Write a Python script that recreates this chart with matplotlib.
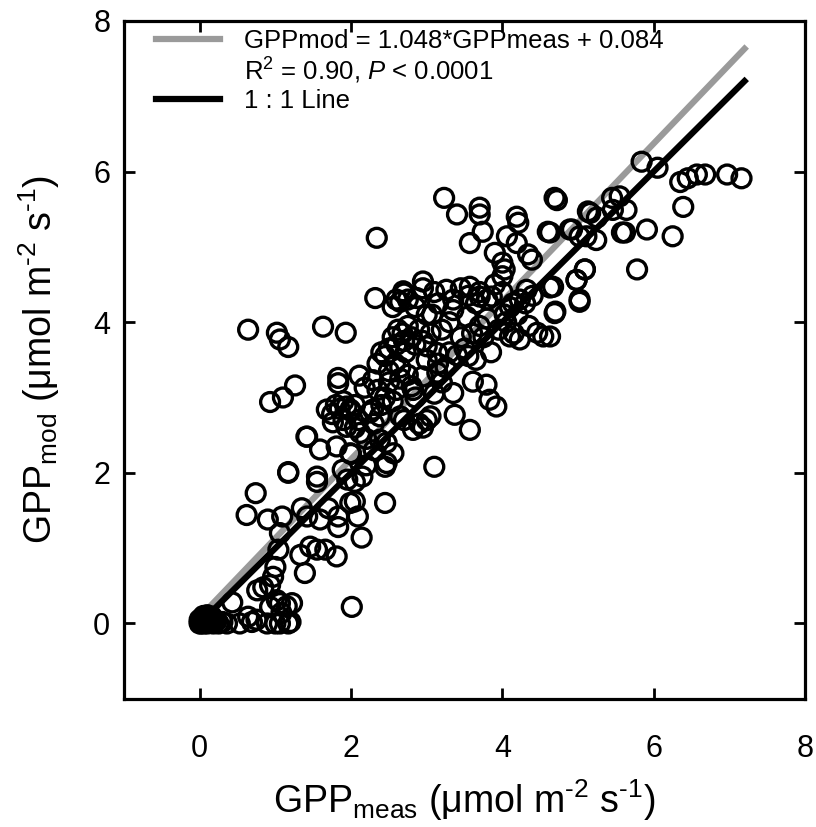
import matplotlib
matplotlib.use("Agg")
import matplotlib.pyplot as plt
import numpy as np
from matplotlib.lines import Line2D

plt.rcParams['font.family'] = ['Liberation Sans', 'DejaVu Sans']
plt.rcParams['mathtext.fontset'] = 'custom'
plt.rcParams['mathtext.rm'] = 'Liberation Sans'
plt.rcParams['mathtext.it'] = 'Liberation Sans:italic'

gpp_meas = [
    # cluster at origin
    0.0, 0.0, 0.02, 0.04, 0.06, 0.08, 0.1, 0.12, 0.15, 0.18, 0.2, 0.25, 0.3, 0.36,
    0.0, 0.03, 0.05, 0.07, 0.1, 0.13, 0.16, 0.22, 0.05, 0.1, 0.14,
    0.53, 0.69, 0.89, 1.06, 1.17, 0.43, 0.64, 0.75, 1.0, 1.2,
    # low values
    0.76, 0.84, 0.93, 0.97, 1.0, 1.15, 1.06, 1.02, 1.22, 0.93, 1.08,
    1.39, 1.33, 1.46, 1.55, 1.66, 1.81, 1.04, 1.06, 0.62, 0.90, 1.09, 1.35, 1.42,
    1.59, 1.70, 1.83, 1.83, 2.09, 2.14, 0.74, 1.17, 1.55, 1.89, 1.95, 2.05, 1.99,
    2.05, 2.45, 2.45, 2.01, 1.55, 1.42,
    # upper left scatter
    0.64, 1.02, 1.06, 1.17, 1.63, 1.93, 0.93, 1.10, 1.26, 1.83, 1.83, 2.11, 2.18,
    2.29, 1.68, 1.94, 1.99, 1.76, 1.94, 2.12, 2.29, 2.38, 1.81, 1.99, 1.41, 1.59,
    1.17, 1.8, 1.85, 1.9, 2.0, 1.75, 2.05, 1.9, 2.47, 2.56, 2.47,
    2.0, 2.05, 2.2, 2.3, 2.2, 2.15, 2.3, 2.25, 2.1,
    # dense middle
    2.45, 2.5, 2.55, 2.6, 2.62, 2.68, 2.7, 2.75, 2.8, 2.85, 2.72, 2.58, 2.65, 2.5,
    2.9, 2.95, 2.4, 2.35, 2.55, 2.75, 2.85, 2.7, 2.6,
    2.35, 2.4, 2.45, 2.5, 2.55, 2.6, 2.65, 2.75, 2.8, 2.85, 2.7, 2.9, 2.95, 3.05,
    3.1, 3.2, 3.25, 3.3, 3.15, 3.0, 3.05, 3.2, 3.3, 3.45, 3.5, 3.6, 3.7, 3.75,
    3.8, 3.65, 3.55, 3.45, 3.35, 3.15, 3.0, 2.95, 3.1,
    2.95, 2.69, 2.65, 2.87, 3.26, 3.57, 3.70, 3.86, 3.07, 3.35, 3.53, 4.32, 4.23,
    4.14, 4.10, 4.23, 4.46, 4.54, 4.03, 3.0, 3.14, 3.40, 2.95, 3.14, 2.82, 3.61,
    3.79, 3.35, 3.83, 3.92, 3.37, 3.57, 3.0, 2.82, 2.65, 2.38, 3.10, 2.34, 2.32,
    3.55, 3.65, 3.85, 3.95, 4.05, 4.1, 4.2, 4.3, 4.4, 4.0, 3.9, 3.7, 3.8, 4.15, 4.35,
    # upper part
    3.23, 3.40, 3.70, 3.70, 3.74, 3.57, 4.19, 4.21, 4.69, 4.60, 4.06, 4.19, 4.34,
    4.39, 3.90, 4.0, 4.03, 4.0, 4.92, 5.02, 5.16, 5.46, 5.58, 5.09, 4.98, 5.02,
    4.63, 4.69,
    # right side
    5.84, 6.05, 6.35, 6.45, 6.57, 6.68, 6.97, 7.16, 6.39, 6.25, 5.91, 5.62, 5.78,
    5.45, 5.55, 5.64, 5.13, 5.25, 4.89, 5.11, 5.24, 4.72, 4.63, 5.09, 4.98, 5.02,
    4.67, 4.70, 4.63,
]
gpp_mod = [
    0.0, 0.02, 0.0, 0.03, 0.0, 0.02, 0.0, 0.03, 0.01, 0.0, 0.04, 0.0, 0.02, 0.0,
    0.05, 0.06, 0.08, 0.04, 0.07, 0.05, 0.09, 0.03, 0.1, 0.11, 0.06,
    0.0, 0.02, 0.0, 0.0, 0.0, 0.28, 0.09, 0.05, 0.0, 0.02,
    0.44, 0.48, 0.51, 0.62, 0.75, 0.23, 0.27, 0.31, 0.27, 0.22, 0.14,
    0.67, 0.91, 1.02, 0.98, 0.98, 0.89, 0.98, 1.20, 1.44, 1.38, 1.42, 1.53, 1.42,
    1.38, 1.53, 1.28, 1.42, 1.42, 1.14, 1.73, 2.0, 1.88, 2.04, 1.91, 1.88, 1.60,
    1.62, 1.60, 2.08, 0.22, 1.95, 2.48,
    3.90, 3.86, 3.77, 3.67, 3.94, 3.86, 2.94, 3.00, 3.16, 3.26, 3.19, 3.29, 3.13,
    3.23, 2.84, 2.88, 2.84, 2.67, 2.61, 2.53, 2.84, 2.75, 2.35, 2.26, 2.48, 2.31,
    2.01, 2.9, 2.85, 2.95, 2.82, 2.78, 2.9, 2.7, 2.40, 2.26, 2.13,
    2.25, 2.6, 2.45, 2.3, 2.1, 1.95, 2.65, 2.8, 2.7,
    3.55, 3.65, 3.8, 3.7, 3.9, 3.85, 3.75, 3.95, 3.8, 3.7, 3.6, 3.45, 3.4, 3.35,
    3.9, 3.75, 3.6, 3.45, 4.2, 4.3, 4.2, 4.38, 4.3,
    3.1, 2.9, 3.0, 3.2, 2.95, 3.1, 3.25, 3.3, 3.15, 3.0, 2.7, 2.65, 2.6, 2.75,
    3.05, 3.2, 3.4, 3.6, 3.45, 3.5, 3.85, 3.9, 4.0, 3.8, 3.65, 3.85, 3.95, 3.8,
    4.05, 4.25, 4.35, 4.45, 4.3, 4.25, 4.1, 4.45, 4.4,
    4.54, 4.41, 4.27, 4.32, 4.43, 4.47, 4.34, 4.34, 4.10, 4.16, 4.07, 4.43, 4.30,
    4.25, 3.81, 3.77, 3.86, 3.81, 4.10, 3.68, 3.59, 3.56, 3.28, 3.33, 3.10, 3.21,
    3.17, 3.06, 2.97, 2.88, 2.77, 2.57, 2.70, 2.57, 2.75, 2.44, 2.08, 5.12, 4.32,
    3.55, 3.5, 3.6, 3.9, 4.0, 4.2, 4.1, 4.25, 4.35, 4.4, 4.5, 4.4, 4.3, 3.85, 3.95,
    5.65, 5.43, 5.52, 5.43, 5.20, 5.05, 5.40, 5.32, 5.65, 5.20, 5.14, 5.05, 4.90,
    4.83, 4.92, 4.79, 4.70, 4.61, 5.23, 5.14, 5.45, 5.49, 5.19, 4.70, 4.56, 4.30,
    4.46, 4.12,
    6.13, 6.05, 5.86, 5.91, 5.96, 5.96, 5.96, 5.91, 5.53, 5.14, 5.23, 5.19, 4.70,
    5.65, 5.67, 5.49, 5.47, 5.39, 5.23, 5.14, 5.09, 5.62, 5.19, 4.70, 4.56, 4.27,
    4.47, 4.14, 3.81,
]

# regression and 1:1 line
slope = 1.048
intercept = 0.084
line_x = np.array([0.0, 7.2])

fig = plt.figure(figsize=(8.16, 8.27), dpi=100)
ax = fig.add_axes([0.152, 0.155, 0.8346, 0.8198])

ax.scatter(gpp_meas, gpp_mod, s=185, facecolors='none', edgecolors='black',
           linewidths=2.4, zorder=3)
ax.plot(line_x, slope * line_x + intercept, color='#9a9a9a', lw=4.5, zorder=2)
ax.plot(line_x, line_x, color='black', lw=4.5, zorder=4)

ax.set_xlim(-1, 8)
ax.set_ylim(-1, 8)
ax.set_xticks([0, 2, 4, 6, 8])
ax.set_yticks([0, 2, 4, 6, 8])
ax.tick_params(direction='in', length=8, width=2, top=True, right=True,
               labelsize=22)
ax.tick_params(axis='x', pad=25)
ax.tick_params(axis='y', pad=10)
for sp in ax.spines.values():
    sp.set_linewidth(2.3)

unit = r' (μmol m$^{\text{-2}}$ s$^{\text{-1}}$)'
ax.set_xlabel(r'GPP$_{\text{meas}}$' + unit, fontsize=27, labelpad=10)
ax.set_ylabel(r'GPP$_{\text{mod}}$' + unit, fontsize=27, labelpad=22)

handles = [
    Line2D([], [], color='#9a9a9a', lw=4.5),
    Line2D([], [], color='none'),
    Line2D([], [], color='black', lw=4.5),
]
labels = [
    'GPPmod = 1.048*GPPmeas + 0.084',
    r'R$^{\text{2}}$ = 0.90, $P$ < 0.0001',
    '1 : 1 Line',
]
ax.legend(handles, labels, loc='upper left', frameon=False, fontsize=18.5,
          handlelength=2.5, handletextpad=0.95, labelspacing=0.13,
          borderpad=0.2, borderaxespad=0.1, bbox_to_anchor=(0.035, 1.0))

fig.savefig('out.png', dpi=100)
